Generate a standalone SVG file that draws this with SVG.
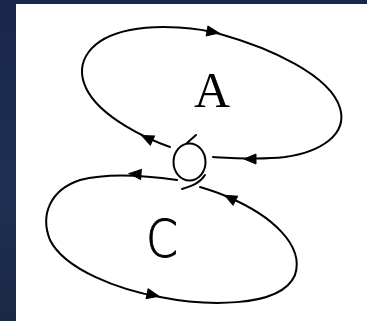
<svg xmlns="http://www.w3.org/2000/svg" width="367" height="321" viewBox="0 0 367 321">
<defs>
<linearGradient id="bg" x1="0" y1="0" x2="0" y2="1">
<stop offset="0" stop-color="#18264a"/>
<stop offset="0.6" stop-color="#1e3052"/>
<stop offset="1" stop-color="#1a2844"/>
</linearGradient>
<path id="ah" d="M6,0 L-6,-5 L-6,5 Z"/>
</defs>
<style>
.ln{fill:none;stroke:#000;stroke-width:2;stroke-linecap:round;stroke-linejoin:round}
.hd{fill:#000;stroke:#000;stroke-width:1}
.lbA{font-family:"Liberation Serif",serif;font-size:50px;fill:#000;text-anchor:middle}
.lbC{font-family:"DejaVu Sans","Liberation Sans",sans-serif;font-size:51px;font-weight:200;fill:#000;stroke:#000;stroke-width:0.9;text-anchor:middle}
</style>
<rect x="0" y="0" width="367" height="321" fill="url(#bg)"/>
<rect x="16" y="4" width="351" height="317" fill="#fff"/>
<g id="connectors">
<path class="ln" d="M170,147 C150,140 100,118 86,88 C74,62 90,38 130,30 C160,24 200,28 220,34 C270,48 330,75 340,108 C348,135 320,152 285,157 C260,160 230,158 213,157"/>
<path class="ln" d="M177,180 C150,176 110,172 80,180 C50,190 40,215 50,240 C65,270 120,290 160,297 C200,305 280,310 295,275 C305,245 270,215 230,198 C220,193 210,190 200,187"/>
<use href="#ah" class="hd" transform="translate(147,138) rotate(-155)"/>
<use href="#ah" class="hd" transform="translate(213,32) rotate(10)"/>
<use href="#ah" class="hd" transform="translate(250,159) rotate(180)"/>
<use href="#ah" class="hd" transform="translate(135,174) rotate(184)"/>
<use href="#ah" class="hd" transform="translate(153,295) rotate(12)"/>
<use href="#ah" class="hd" transform="translate(230,198) rotate(-153)"/>
</g>
<g id="knot">
<ellipse class="ln" cx="189.5" cy="162" rx="16" ry="18.5"/>
<path class="ln" d="M187,143 L196,135"/>
<path class="ln" d="M205,175 C200,183 192,186 182,189"/>
</g>
<g id="nodeA"><text class="lbA" x="212" y="107">A</text></g>
<g id="nodeC"><text class="lbC" transform="translate(162,257) scale(0.9,1)" x="0" y="0">C</text></g>
</svg>
